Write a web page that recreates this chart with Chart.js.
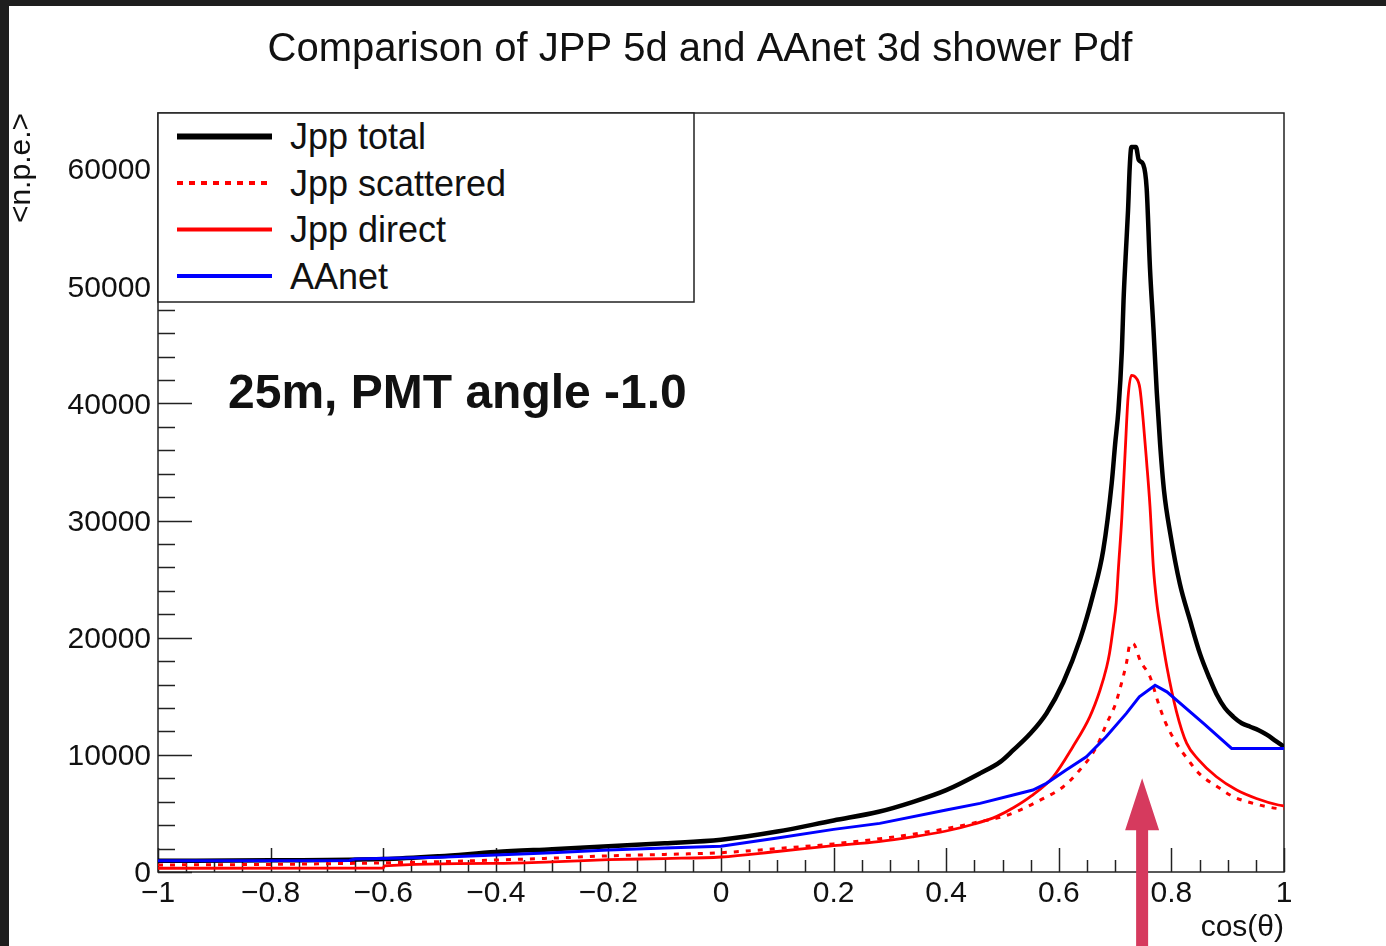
<!DOCTYPE html>
<html><head><meta charset="utf-8">
<script src="https://cdn.jsdelivr.net/npm/chart.js@4.4.1/dist/chart.umd.min.js"></script>
<style>
html,body{margin:0;padding:0;background:#fff;}
#wrap{position:relative;width:1386px;height:946px;overflow:hidden;background:#fff;}
#c{position:absolute;left:0;top:0;}
.bandTop{position:absolute;left:0;top:0;width:1386px;height:6px;background:#1e1e1e;}
.bandLeft{position:absolute;left:0;top:0;width:9px;height:946px;background:#1e1e1e;}
#legend{position:absolute;left:157px;top:112px;}
#note{position:absolute;left:228px;top:368px;font:bold 48px "Liberation Sans",Arial,sans-serif;line-height:1;color:#111;white-space:nowrap;}
</style></head>
<body>
<div id="wrap">
<canvas id="c" width="1386" height="946"></canvas>
<svg id="legend" width="540" height="192" xmlns="http://www.w3.org/2000/svg" font-family="Liberation Sans, Arial, sans-serif">
  <rect x="1" y="1" width="536" height="189" fill="#fff" stroke="#222" stroke-width="1.5"/>
  <line x1="20" x2="115" y1="24.5" y2="24.5" stroke="#000" stroke-width="6"/>
  <line x1="20" x2="115" y1="71" y2="71" stroke="#ff0000" stroke-width="4" stroke-dasharray="6 6"/>
  <line x1="20" x2="115" y1="117.5" y2="117.5" stroke="#ff0000" stroke-width="4"/>
  <line x1="20" x2="115" y1="164" y2="164" stroke="#0000ff" stroke-width="4"/>
  <text id="lg0" x="133" y="24.5" font-size="36" dominant-baseline="central" fill="#111"></text>
  <text id="lg1" x="133" y="71" font-size="36" dominant-baseline="central" fill="#111"></text>
  <text id="lg2" x="133" y="117.5" font-size="36" dominant-baseline="central" fill="#111"></text>
  <text id="lg3" x="133" y="164" font-size="36" dominant-baseline="central" fill="#111"></text>
</svg>
<div id="note">25m, PMT angle -1.0</div>
<div class="bandTop"></div>
<div class="bandLeft"></div>
</div>
<script>
// ---- data ----
const seriesLabels = ['Jpp total', 'Jpp scattered', 'Jpp direct', 'AAnet'];

const jppTotal = [[-1,950],[-0.8,1000],[-0.6,1100],[-0.5,1350],[-0.4,1700],[-0.3,1950],[-0.2,2200],[-0.1,2450],[0,2750],[0.1,3450],
  [0.2,4400],[0.28,5140],[0.34,5970],[0.4,6990],[0.46,8420],[0.496,9400],[0.519,10400],[0.549,11800],[0.578,13540],[0.608,16200],
  [0.638,19900],[0.661,23700],[0.679,27500],[0.694,33200],[0.70,36500],[0.706,39500],[0.712,44500],[0.715,48800],[0.719,52800],[0.723,56500],
  [0.726,60200],[0.729,61900],[0.737,61900],[0.742,60800],[0.75,60400],[0.756,58400],[0.762,51500],[0.768,46500],[0.774,41000],[0.78,36500],
  [0.787,32500],[0.798,28900],[0.815,24600],[0.833,21500],[0.851,18600],[0.868,16500],[0.88,15200],[0.895,14000],[0.91,13250],[0.925,12700],
  [0.94,12400],[0.955,12100],[0.97,11700],[0.985,11200],[1.0,10700]];

const jppScattered = [[-1,600],[-0.8,650],[-0.6,780],[-0.5,880],[-0.4,1020],[-0.3,1180],[-0.2,1380],[-0.1,1500],[0,1650],[0.1,2000],
  [0.2,2400],[0.3,2950],[0.4,3700],[0.46,4300],[0.5,4720],[0.531,5290],[0.567,6140],[0.608,7280],[0.632,8420],[0.667,10690],
  [0.685,12680],[0.7,14250],[0.709,15700],[0.72,17800],[0.727,19500],[0.732,19500],[0.745,18000],[0.762,16670],[0.777,14390],[0.789,12820],
  [0.809,10980],[0.83,9560],[0.849,8420],[0.886,7140],[0.91,6430],[0.945,5860],[0.987,5430],[1.0,5400]];

const jppDirect = [[-1,320],[-0.6,340],[-0.598,520],[-0.4,740],[-0.3,870],[-0.2,1050],[-0.1,1150],[0,1280],[0.1,1750],[0.2,2250],
  [0.28,2600],[0.34,3000],[0.4,3500],[0.45,4100],[0.49,4750],[0.52,5500],[0.55,6450],[0.59,8130],[0.625,10700],[0.655,13250],
  [0.673,15500],[0.685,17500],[0.69,18650],[0.697,21000],[0.702,23000],[0.706,26000],[0.712,30300],[0.718,36000],[0.723,40500],[0.729,42400],
  [0.737,42200],[0.744,41300],[0.75,38500],[0.756,35000],[0.762,31200],[0.768,26000],[0.774,23000],[0.78,21000],[0.792,17500],[0.809,13700],
  [0.827,11000],[0.848,9600],[0.88,8130],[0.916,7000],[0.951,6280],[0.99,5720],[1.0,5650]];

const aanet = [[-1,950],[-0.66,980],[-0.65,1100],[-0.5,1250],[-0.4,1450],[-0.3,1650],[-0.2,1880],[-0.1,2050],[0,2200],[0.1,2900],
  [0.2,3640],[0.282,4150],[0.4,5290],[0.46,5860],[0.519,6570],[0.554,7000],[0.578,7570],[0.613,8700],[0.649,9840],[0.684,11540],
  [0.72,13540],[0.743,14950],[0.771,15950],[0.792,15380],[0.857,12680],[0.907,10550],[1.0,10550]];

const xTickValues = [-1,-0.8,-0.6,-0.4,-0.2,0,0.2,0.4,0.6,0.8,1];
const xTickLabels = ['\u22121','\u22120.8','\u22120.6','\u22120.4','\u22120.2','0','0.2','0.4','0.6','0.8','1'];
const yTickValues = [0,10000,20000,30000,40000,50000,60000];
const yTickLabels = ['0','10000','20000','30000','40000','50000','60000'];

const titleText = 'Comparison of JPP 5d and AAnet 3d shower Pdf';
const xTitle = 'cos(\u03B8)';
const yTitle = '<n.p.e.>';
const arrowAt = {x: 0.748, y: 8000};

// legend text
seriesLabels.forEach((t,i)=>{ document.getElementById('lg'+i).textContent = t; });

const FONT = '"Liberation Sans", Arial, sans-serif';
Chart.defaults.font.family = FONT;
Chart.defaults.color = '#111';

const toPts = arr => arr.map(p => ({x: p[0], y: p[1]}));

const rootFrame = {
  id: 'rootFrame',
  beforeDatasetsDraw(chart) {
    const {ctx, chartArea: a, scales: {x, y}} = chart;
    ctx.save();
    ctx.strokeStyle = '#222';
    ctx.lineWidth = 1.5;
    for (let i = 0; i <= 40; i++) {
      const v = -1 + i * 0.05;
      const px = Math.round(x.getPixelForValue(v)) + 0.5;
      const len = (i % 4 === 0) ? 24 : 12;
      ctx.beginPath(); ctx.moveTo(px, a.bottom); ctx.lineTo(px, a.bottom - len); ctx.stroke();
    }
    for (let i = 0; i <= 32; i++) {
      const v = i * 2000;
      const py = Math.round(y.getPixelForValue(v)) + 0.5;
      const len = (i % 5 === 0) ? 34 : 17;
      ctx.beginPath(); ctx.moveTo(a.left, py); ctx.lineTo(a.left + len, py); ctx.stroke();
    }
    ctx.strokeRect(a.left, a.top, a.right - a.left, a.bottom - a.top);
    ctx.restore();
  },
  afterDraw(chart) {
    const {ctx, scales: {x, y}} = chart;
    const cx = x.getPixelForValue(arrowAt.x);
    const tip = y.getPixelForValue(arrowAt.y);
    ctx.save();
    ctx.fillStyle = '#d63a5e';
    ctx.beginPath();
    ctx.moveTo(cx, tip);
    ctx.lineTo(cx + 17, tip + 52);
    ctx.lineTo(cx + 6, tip + 52);
    ctx.lineTo(cx + 6, chart.height);
    ctx.lineTo(cx - 6, chart.height);
    ctx.lineTo(cx - 6, tip + 52);
    ctx.lineTo(cx - 17, tip + 52);
    ctx.closePath();
    ctx.fill();
    ctx.restore();
  }
};

new Chart(document.getElementById('c'), {
  type: 'line',
  data: {
    datasets: [
      {label: seriesLabels[0], data: toPts(jppTotal), borderColor: '#000', borderWidth: 4.5, pointRadius: 0, cubicInterpolationMode: 'monotone', order: 4},
      {label: seriesLabels[1], data: toPts(jppScattered), borderColor: '#ff0000', borderWidth: 3, borderDash: [5, 7], pointRadius: 0, cubicInterpolationMode: 'monotone', order: 3},
      {label: seriesLabels[2], data: toPts(jppDirect), borderColor: '#ff0000', borderWidth: 2.8, pointRadius: 0, cubicInterpolationMode: 'monotone', order: 2},
      {label: seriesLabels[3], data: toPts(aanet), borderColor: '#0000ff', borderWidth: 3, pointRadius: 0, tension: 0, order: 1}
    ]
  },
  options: {
    responsive: false,
    animation: false,
    events: [],
    layout: {padding: {left: 14, right: 0, top: 0, bottom: 0}},
    plugins: {
      legend: {display: false},
      tooltip: {enabled: false},
      title: {display: true, text: titleText, color: '#111', font: {family: FONT, size: 40, weight: 'normal'}, padding: {top: 26, bottom: 39}}
    },
    scales: {
      x: {
        type: 'linear', min: -1, max: 1,
        afterBuildTicks: s => { s.ticks = xTickValues.map(v => ({value: v})); },
        afterFit: s => { s.height = 74; },
        ticks: {callback: v => xTickLabels[xTickValues.indexOf(v)], font: {size: 30}, color: '#111', padding: 4, maxRotation: 0, autoSkip: false},
        grid: {display: false, drawTicks: false},
        border: {display: false},
        title: {display: true, text: xTitle, align: 'end', color: '#111', font: {size: 30}, padding: {top: 10, bottom: 0}}
      },
      y: {
        type: 'linear', min: 0, max: 64800,
        afterBuildTicks: s => { s.ticks = yTickValues.map(v => ({value: v})); },
        afterFit: s => { s.width = 144; },
        ticks: {callback: v => yTickLabels[yTickValues.indexOf(v)], font: {size: 30}, color: '#111', padding: 7, labelOffset: 2, autoSkip: false},
        grid: {display: false, drawTicks: false},
        border: {display: false},
        title: {display: true, text: yTitle, align: 'end', color: '#111', font: {size: 30}, padding: {top: -10, bottom: 0}}
      },
      yR: {
        type: 'linear', position: 'right', min: 0, max: 1, display: true,
        afterFit: s => { s.width = 102; },
        ticks: {display: false},
        grid: {display: false, drawTicks: false},
        border: {display: false},
        title: {display: false}
      }
    }
  },
  plugins: [rootFrame]
});
</script>
</body></html>
